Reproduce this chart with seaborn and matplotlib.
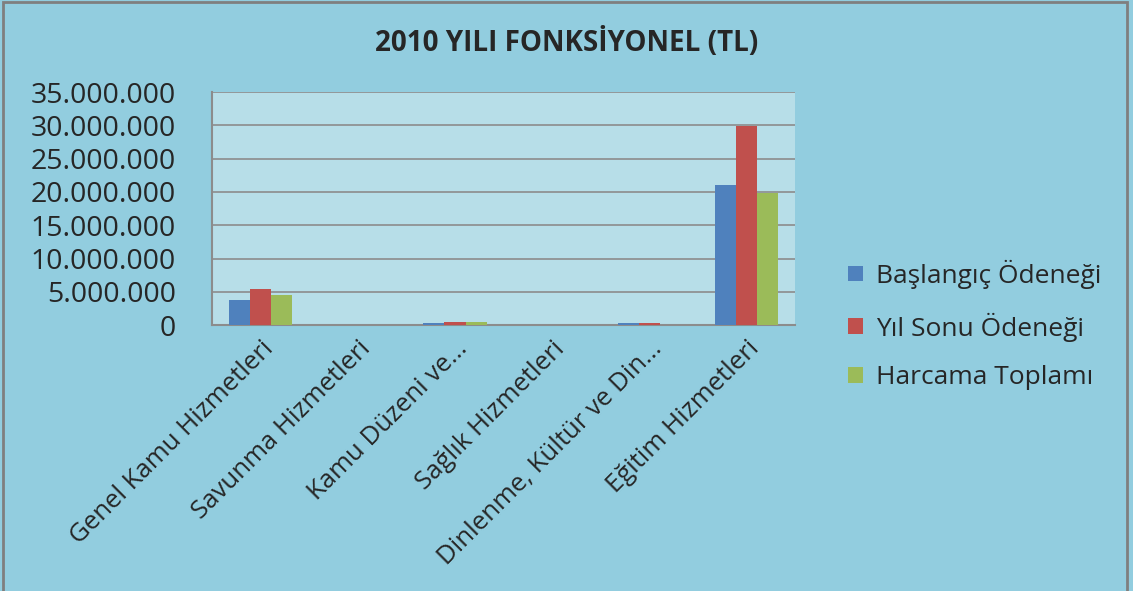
import pandas as pd
import matplotlib.pyplot as plt
import seaborn as sns

# Values (TL)
categories = ['Genel Kamu Hizmetleri', 'Savunma Hizmetleri', 'Kamu Düzeni ve...',
              'Sağlık Hizmetleri', 'Dinlenme, Kültür ve Din...', 'Eğitim Hizmetleri']
baslangic = [3750000, 0, 250000, 0, 300000, 21100000]
yil_sonu = [5350000, 0, 450000, 0, 300000, 29950000]
harcama = [4550000, 0, 400000, 0, 50000, 19900000]
series_names = ['Başlangıç Ödeneği', 'Yıl Sonu Ödeneği', 'Harcama Toplamı']
colors = ['#4F81BD', '#C0504D', '#9BBB59']
yticks = [0, 5000000, 10000000, 15000000, 20000000, 25000000, 30000000, 35000000]

rows = []
for name, vals in zip(series_names, [baslangic, yil_sonu, harcama]):
    for cat, v in zip(categories, vals):
        rows.append({'Kategori': cat, 'Seri': name, 'Tutar': v})
df = pd.DataFrame(rows)

sns.set_style('white')
plt.rcParams['font.family'] = ['Open Sans', 'DejaVu Sans']

fig = plt.figure(figsize=(11.33, 5.91), dpi=100)
fig.patch.set_facecolor('#92CDDF')
ax = fig.add_axes([0.187, 0.450, 0.515, 0.394])
ax.set_facecolor('#B7DEE8')

sns.barplot(data=df, x='Kategori', y='Tutar', hue='Seri', palette=colors,
            saturation=1, width=0.65, ax=ax, zorder=3, edgecolor='none')

ax.set_ylim(0, 35000000)
ax.set_yticks(yticks)
ax.set_yticklabels([f'{t:,}'.replace(',', '.') for t in yticks], fontsize=20.5)
ax.yaxis.grid(True, color='#8C8C8C', linewidth=1.2, zorder=0)
ax.set_axisbelow(True)
ax.set_xlabel('')
ax.set_ylabel('')
ax.set_xticks(range(len(categories)))
ax.set_xticklabels(categories, rotation=45, ha='right', rotation_mode='anchor', fontsize=18.5)
ax.tick_params(axis='x', length=0, pad=8)
ax.tick_params(axis='y', length=0, pad=26)
for side in ['top', 'right']:
    ax.spines[side].set_visible(False)
for side in ['left', 'bottom']:
    ax.spines[side].set_color('#8C8C8C')
    ax.spines[side].set_linewidth(1.5)

leg = ax.legend(loc='center left', bbox_to_anchor=(1.05, 0.0), frameon=False,
                fontsize=19, handlelength=0.55, handleheight=0.55, handletextpad=0.5,
                labelspacing=0.9)

fig.text(0.5, 0.927, '2010 YILI FONKSİYONEL (TL)', ha='center', va='center',
         fontsize=20, fontweight='bold')

fig.add_artist(plt.Rectangle((0.003, -0.01), 0.992, 1.007, transform=fig.transFigure,
                             fill=False, edgecolor='#7F7F7F', linewidth=2))

fig.savefig('out.png', dpi=100, facecolor=fig.get_facecolor())
